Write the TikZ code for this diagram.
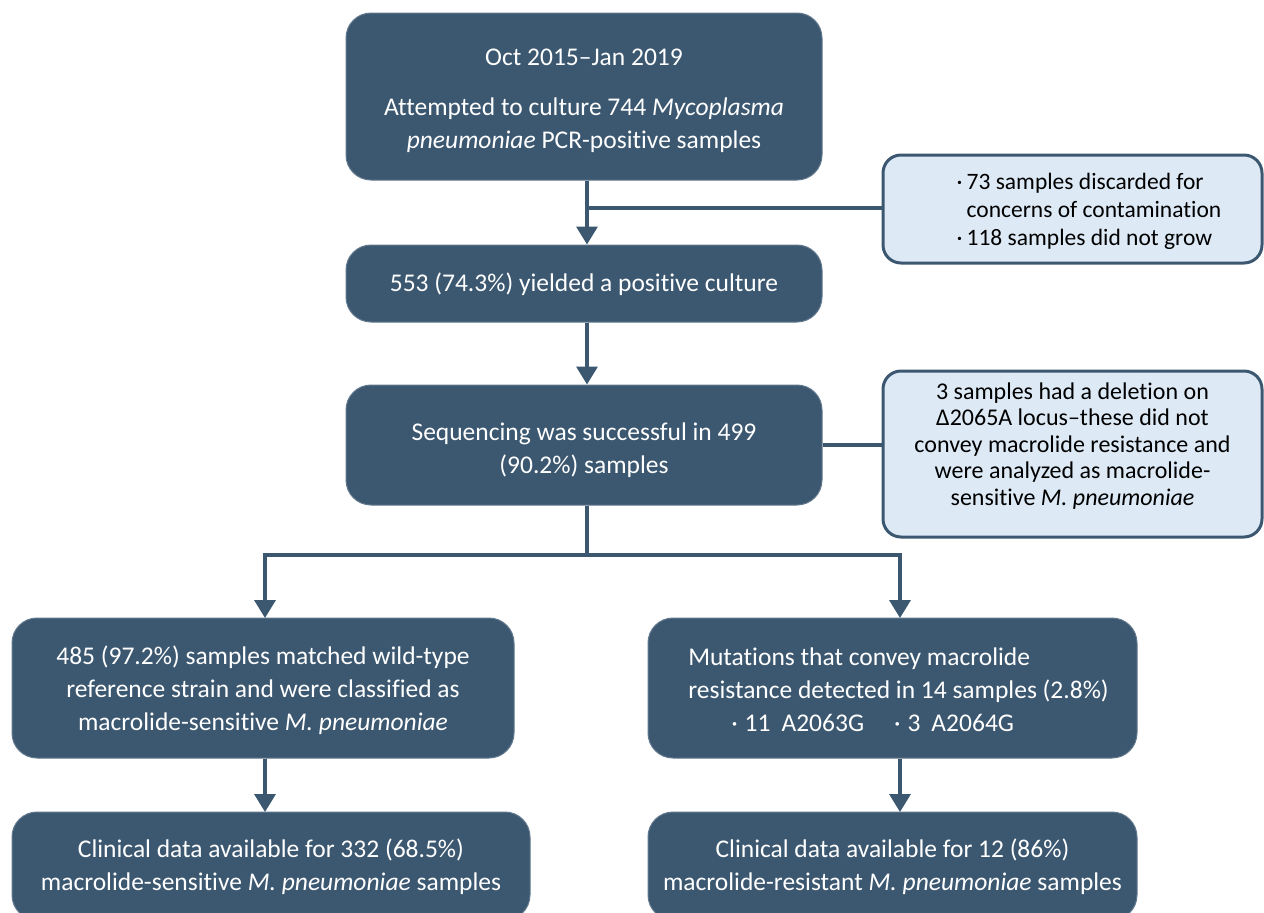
\documentclass[tikz,border=0pt]{standalone}
\usepackage{fontspec}
\setmainfont{Carlito}[Ligatures={TeX,NoCommon}]
\usetikzlibrary{arrows.meta}
\definecolor{darkc}{HTML}{3C5871}
\definecolor{lightc}{HTML}{DDEAF6}
\definecolor{linec}{HTML}{3C5871}
\newcommand\bul{\makebox[10pt][l]{·}}
\begin{document}
\begin{tikzpicture}[x=1pt,y=-1pt,
  darkbox/.style={fill=darkc, draw=darkc!80!white, line width=1pt, rounded corners=25pt,
    text=white, font=\fontsize{25.5}{33}\selectfont, align=center, inner sep=0pt},
  lightbox/.style={fill=lightc, draw=linec, line width=3pt, rounded corners=18pt,
    text=black, font=\fontsize{23.5}{26.5}\selectfont, align=center, inner sep=0pt},
  darktext/.style={text=white, font=\fontsize{25.5}{33}\selectfont, align=center, inner sep=0pt},
  lighttext/.style={text=black, font=\fontsize{23.5}{26.5}\selectfont, align=center, inner sep=0pt},
  conn/.style={draw=linec, line width=3.5pt},
  arr/.style={conn, -{Triangle[width=21pt,length=18pt]}}
]
\useasboundingbox[fill=white] (0,0) rectangle (1264,913);

% boxes
\node[darkbox, minimum width=476pt, minimum height=167pt] (b1) at (584,96.5) {};
\node[darkbox, minimum width=476pt, minimum height=77pt] (b2) at (584,283.5) {};
\node[darkbox, minimum width=476pt, minimum height=120pt] (b3) at (584,445) {};
\node[lightbox, minimum width=379pt, minimum height=108pt] (s1) at (1072.5,209) {};
\node[lightbox, minimum width=379pt, minimum height=166pt] (s2) at (1072.5,454) {};
\node[darkbox, minimum width=502pt, minimum height=140pt] (b4) at (263,688) {};
\node[darkbox, minimum width=489pt, minimum height=140pt] (b5) at (892.5,688) {};
\node[darkbox, minimum width=518pt, minimum height=108pt] (b6) at (271,866) {};
\node[darkbox, minimum width=489pt, minimum height=108pt] (b7) at (892.5,866) {};

% texts
\node[darktext] (b1t) at ([yshift=-4pt]b1.center)
  {Oct 2015–Jan 2019\\[17pt]Attempted to culture 744 \textit{Mycoplasma}\\\textit{pneumoniae} PCR-positive samples};
\node[darktext] (b2t) at ([yshift=-1pt]b2.center) {553 (74.3\%) yielded a positive culture};
\node[darktext] (b3t) at ([yshift=-5pt]b3.center) {Sequencing was successful in 499\\(90.2\%) samples};
\node[lighttext, align=left, font=\fontsize{23.5}{28}\selectfont] (s1t) at (1089,211)
  {\bul 73 samples discarded for\\\hspace*{10pt}concerns of contamination\\\bul 118 samples did not grow};
\node[lighttext, font=\fontsize{24}{26.5}\selectfont] (s2t) at ([yshift=8pt]s2.center)
  {3 samples had a deletion on\\Δ2065A locus–these did not\\convey macrolide resistance and\\were analyzed as macrolide-\\sensitive \textit{M. pneumoniae}};
\node[darktext] (b4t) at ([yshift=-2pt]b4.center)
  {485 (97.2\%) samples matched wild-type\\reference strain and were classified as\\macrolide-sensitive \textit{M. pneumoniae}};
\node[darktext, align=left] (b5t) at ([xshift=6pt,yshift=-2pt]b5.center)
  {Mutations that convey macrolide\\resistance detected in 14 samples (2.8\%)\\\hspace*{43pt}·\hspace{7pt}11\hspace{11pt}A2063G\hspace{30pt}·\hspace{7pt}3\hspace{11pt}A2064G};
\node[darktext] (b6t) at ([yshift=-1pt]b6.center)
  {Clinical data available for 332 (68.5\%)\\macrolide-sensitive \textit{M. pneumoniae} samples};
\node[darktext] (b7t) at ([yshift=-1pt]b7.center)
  {Clinical data available for 12 (86\%)\\macrolide-resistant \textit{M. pneumoniae} samples};

% connectors
\coordinate (j1) at (587,208);
\coordinate (j2) at (587,445);
\coordinate (split) at (587,555);
\coordinate (t4) at (265,618);
\coordinate (t5) at (900,618);
\coordinate (t6) at (265,812);
\coordinate (t7) at (900,812);

\draw[arr] (b1.south -| j1) -- (b2.north -| j1);
\draw[conn] (j1) -- (s1.west |- j1);
\draw[arr] (b2.south -| j1) -- (b3.north -| j1);
\draw[conn] (b3.east |- j2) -- (s2.west |- j2);
\draw[conn] (b3.south -| split) -- (split);
\draw[arr] (split) -| (t4);
\draw[arr] (split) -| (t5);
\draw[arr] (b4.south -| t6) -- (t6);
\draw[arr] (b5.south -| t7) -- (t7);
\end{tikzpicture}
\end{document}
